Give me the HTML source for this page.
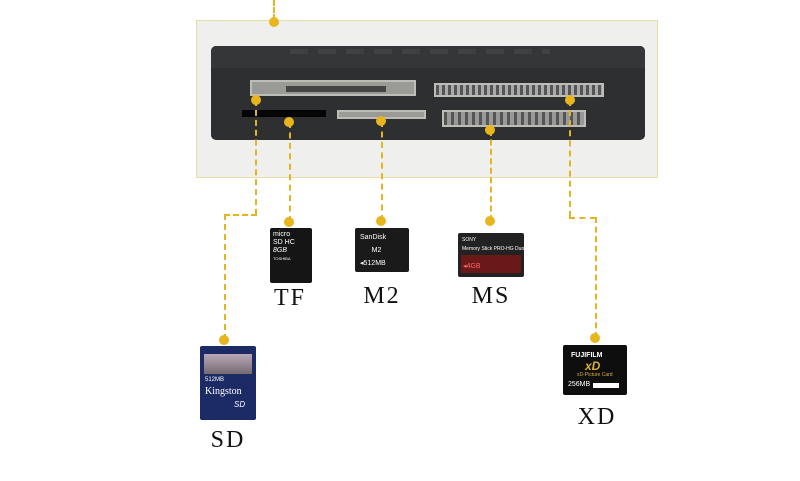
<!DOCTYPE html>
<html><head><style>
body{margin:0;width:800px;height:481px;background:#fff;position:relative;overflow:hidden;font-family:"Liberation Serif",serif}
div{position:absolute;box-sizing:border-box}
.v{border-left:2px dashed #e4b421;width:0}
.h{border-top:2px dashed #e4b421;height:0}
.d{width:10px;height:10px;border-radius:50%;background:#e8b51c}
.lab{font-size:24px;color:#111;transform:translateX(-50%);letter-spacing:2px}
.slot{background:#9a9a96;border:2px solid #bdbdb8}
.t{font-family:"Liberation Sans",sans-serif;color:#fff;white-space:nowrap}
</style></head><body>
<div class="v" style="left:273px;top:0;height:20px"></div>
<div style="left:196px;top:20px;width:462px;height:158px;background:#efefed;border:1px solid #eadca8"></div>
<div class="d" style="left:269px;top:17px"></div>
<div style="left:211px;top:46px;width:434px;height:94px;background:#2e2f31;border-radius:5px"></div>
<div style="left:211px;top:46px;width:434px;height:22px;background:#353638;border-radius:5px 5px 0 0"></div>
<div style="left:290px;top:49px;width:260px;height:5px;background:repeating-linear-gradient(90deg,#555 0 18px,transparent 18px 28px);opacity:.35"></div>
<div class="slot" style="left:250px;top:80px;width:166px;height:16px"></div>
<div style="left:286px;top:86px;width:100px;height:6px;background:#444"></div>
<div class="slot" style="left:434px;top:83px;width:170px;height:14px;background:repeating-linear-gradient(90deg,#555 0 3px,#aaa 3px 6px)"></div>
<div style="left:242px;top:110px;width:84px;height:7px;background:#050505"></div>
<div class="slot" style="left:337px;top:110px;width:89px;height:9px"></div>
<div class="slot" style="left:442px;top:110px;width:144px;height:17px;background:repeating-linear-gradient(90deg,#555 0 3px,#999 3px 7px)"></div>
<!-- lines -->
<div class="v" style="left:255px;top:100px;height:115px"></div>
<div class="h" style="left:224px;top:214px;width:33px"></div>
<div class="v" style="left:224px;top:214px;height:126px"></div>
<div class="d" style="left:219px;top:335px"></div>
<div class="d" style="left:251px;top:95px"></div>
<div class="v" style="left:289px;top:122px;height:100px"></div>
<div class="d" style="left:284px;top:117px"></div>
<div class="d" style="left:284px;top:217px"></div>
<div class="v" style="left:381px;top:121px;height:100px"></div>
<div class="d" style="left:376px;top:116px"></div>
<div class="d" style="left:376px;top:216px"></div>
<div class="v" style="left:490px;top:130px;height:91px"></div>
<div class="d" style="left:485px;top:125px"></div>
<div class="d" style="left:485px;top:216px"></div>
<div class="v" style="left:569px;top:100px;height:117px"></div>
<div class="h" style="left:569px;top:217px;width:27px"></div>
<div class="v" style="left:595px;top:217px;height:121px"></div>
<div class="d" style="left:565px;top:95px"></div>
<div class="d" style="left:590px;top:333px"></div>
<!-- cards -->
<div style="left:270px;top:228px;width:42px;height:55px;background:#151515;border-radius:2px"><div class="t" style="left:3px;top:3px;font-size:7px;line-height:8px">micro<br>SD HC<br><i>8GB</i><br><span style="font-size:4px">TOSHIBA</span></div></div>
<div style="left:355px;top:228px;width:54px;height:44px;background:#1a1a1a;border-radius:2px"><div class="t" style="left:5px;top:3px;font-size:7px;line-height:13px">SanDisk<br>&nbsp;&nbsp;&nbsp;&nbsp;&nbsp;&nbsp;M2<br>◂512MB</div></div>
<div style="left:458px;top:233px;width:66px;height:44px;background:#222;border-radius:2px"><div style="left:3px;top:22px;width:60px;height:18px;background:#6a1818"></div><div class="t" style="left:4px;top:3px;font-size:5px;line-height:9px">SONY<br>Memory Stick PRO-HG Duo</div><div class="t" style="left:5px;top:29px;font-size:7px;color:#f66">◂4GB</div></div>
<div style="left:200px;top:346px;width:56px;height:74px;background:#1c2a66;border-radius:2px"><div style="left:4px;top:8px;width:48px;height:20px;background:linear-gradient(#b9a8b8,#756a70)"></div><div class="t" style="left:5px;top:31px;font-size:6px">512MB</div><div class="t" style="left:5px;top:40px;font-size:10px;font-family:'Liberation Serif',serif">Kingston</div><div class="t" style="left:34px;top:54px;font-size:8px"><i>SD</i></div></div>
<div style="left:563px;top:345px;width:64px;height:50px;background:#0e0e0e;border-radius:2px"><div class="t" style="left:8px;top:7px;font-size:7px;font-weight:bold">FUJIFILM</div><div class="t" style="left:22px;top:14px;font-size:12px;color:#d8b030;font-style:italic;font-weight:bold">xD</div><div class="t" style="left:14px;top:27px;font-size:5px;color:#d8b030">xD-Picture Card</div><div class="t" style="left:5px;top:36px;font-size:7px">256MB</div><div style="left:30px;top:38px;width:26px;height:5px;background:#fff"></div></div>
<div class="lab" style="left:290px;top:285px">TF</div>
<div class="lab" style="left:382px;top:283px">M2</div>
<div class="lab" style="left:491px;top:283px">MS</div>
<div class="lab" style="left:228px;top:427px">SD</div>
<div class="lab" style="left:597px;top:404px">XD</div>
</body></html>
